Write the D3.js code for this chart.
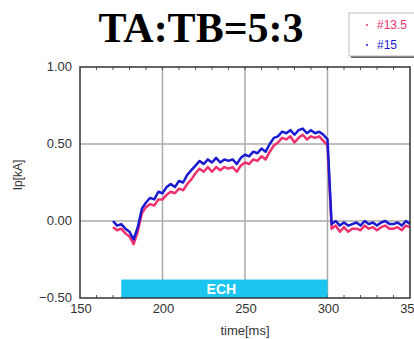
<!DOCTYPE html>
<html>
<head>
<meta charset="utf-8">
<script src="https://cdn.jsdelivr.net/npm/d3@7"></script>
<style>
body { margin: 0; background: #fff; }
svg { display: block; font-family: "Liberation Sans", Arial, sans-serif; }
</style>
</head>
<body>
<script>
var times = [170, 172.5, 175, 177.5, 180, 182.5, 185, 187.5, 190, 192.5, 195, 197.5,
    200, 202.5, 205, 207.5, 210, 212.5, 215, 217.5, 220, 222.5, 225, 227.5,
    230, 232.5, 235, 237.5, 240, 242.5, 245, 247.5, 250, 252.5, 255, 257.5,
    260, 262.5, 265, 267.5, 270, 272.5, 275, 277.5, 280, 282.5, 285, 287.5,
    290, 292.5, 295, 297.5, 300, 302.5, 305, 307.5, 310, 312.5, 315, 317.5,
    320, 322.5, 325, 327.5, 330, 332.5, 335, 337.5, 340, 342.5, 345, 347.5, 350];

// shot #13.5 (pink)
var ip135 = [-0.04, -0.06, -0.05, -0.08, -0.10, -0.15, -0.07, 0.05, 0.09, 0.11, 0.10, 0.14,
    0.14, 0.17, 0.19, 0.18, 0.21, 0.20, 0.24, 0.27, 0.31, 0.34, 0.32, 0.35,
    0.32, 0.35, 0.33, 0.35, 0.34, 0.35, 0.32, 0.36, 0.38, 0.37, 0.40, 0.39,
    0.42, 0.40, 0.45, 0.49, 0.51, 0.54, 0.53, 0.55, 0.51, 0.54, 0.56, 0.53,
    0.55, 0.54, 0.55, 0.52, 0.49, -0.05, -0.03, -0.07, -0.04, -0.07, -0.05, -0.05,
    -0.06, -0.03, -0.05, -0.04, -0.06, -0.04, -0.03, -0.05, -0.05, -0.04, -0.06, -0.03, -0.04];

// shot #15 (blue)
var ip15 = [0.00, -0.03, -0.02, -0.05, -0.07, -0.12, -0.04, 0.08, 0.12, 0.15, 0.14, 0.19,
    0.18, 0.22, 0.24, 0.22, 0.26, 0.25, 0.30, 0.33, 0.36, 0.39, 0.37, 0.40,
    0.38, 0.41, 0.38, 0.40, 0.39, 0.40, 0.37, 0.41, 0.43, 0.42, 0.45, 0.44,
    0.47, 0.45, 0.50, 0.54, 0.55, 0.58, 0.57, 0.59, 0.56, 0.59, 0.60, 0.57,
    0.59, 0.57, 0.58, 0.56, 0.53, -0.02, 0.00, -0.03, -0.01, -0.03, -0.02, -0.01,
    -0.03, 0.00, -0.02, -0.01, -0.03, -0.01, 0.00, -0.02, -0.02, -0.01, -0.03, 0.00, -0.02];

var xTicks = [150, 200, 250, 300, 350];
var yTicks = [-0.5, 0, 0.5, 1.0];
var echStart = 175, echEnd = 300;
var legendNames = ["#13.5", "#15"];

var width = 414, height = 339;
var padL = 80, padR = 410, padT = 67, padB = 298;

var svg = d3.select("body").append("svg")
    .attr("width", width)
    .attr("height", height);

var x = d3.scaleLinear().domain([150, 350]).range([padL, padR]);
var y = d3.scaleLinear().domain([-0.5, 1.0]).range([padB, padT]);

// grid
svg.append("g")
    .selectAll("line")
    .data(xTicks.slice(1, -1))
    .enter().append("line")
    .attr("x1", function (d) { return x(d); })
    .attr("x2", function (d) { return x(d); })
    .attr("y1", padT).attr("y2", padB)
    .attr("stroke", "#aaa").attr("stroke-width", 1.5);

svg.append("g")
    .selectAll("line")
    .data(yTicks.slice(1, -1))
    .enter().append("line")
    .attr("x1", padL).attr("x2", padR)
    .attr("y1", function (d) { return y(d); })
    .attr("y2", function (d) { return y(d); })
    .attr("stroke", "#aaa").attr("stroke-width", 1.5);

// small inner ticks on top and bottom edge
var minor = d3.range(160, 350, 10);
svg.append("g")
    .selectAll("line")
    .data(minor)
    .enter().append("line")
    .attr("x1", function (d) { return x(d); })
    .attr("x2", function (d) { return x(d); })
    .attr("y1", padT).attr("y2", padT + 3)
    .attr("stroke", "#555").attr("stroke-width", 1);
svg.append("g")
    .selectAll("line")
    .data(minor)
    .enter().append("line")
    .attr("x1", function (d) { return x(d); })
    .attr("x2", function (d) { return x(d); })
    .attr("y1", padB).attr("y2", padB - 3)
    .attr("stroke", "#555").attr("stroke-width", 1);

// ECH bar
svg.append("rect")
    .attr("x", x(echStart))
    .attr("y", y(-0.38))
    .attr("width", x(echEnd) - x(echStart))
    .attr("height", y(-0.5) - y(-0.38))
    .attr("fill", "#1cc4f0");
svg.append("text")
    .attr("x", (x(echStart) + x(echEnd)) / 2 - 3)
    .attr("y", y(-0.44) + 5)
    .attr("text-anchor", "middle")
    .attr("fill", "#fff")
    .attr("font-weight", "bold")
    .attr("font-size", 14)
    .text("ECH");

// curves
var line = d3.line()
    .x(function (d) { return x(d[0]); })
    .y(function (d) { return y(d[1]); });

svg.append("path")
    .datum(d3.zip(times, ip135))
    .attr("d", line)
    .attr("fill", "none")
    .attr("stroke", "#f0306e")
    .attr("stroke-width", 2.5)
    .attr("stroke-linejoin", "round");

svg.append("path")
    .datum(d3.zip(times, ip15))
    .attr("d", line)
    .attr("fill", "none")
    .attr("stroke", "#1a1ad0")
    .attr("stroke-width", 2.5)
    .attr("stroke-linejoin", "round");

// frame
svg.append("rect")
    .attr("x", padL).attr("y", padT)
    .attr("width", padR - padL).attr("height", padB - padT)
    .attr("fill", "none")
    .attr("stroke", "#333").attr("stroke-width", 1.5);

// tick labels
svg.append("g")
    .selectAll("text")
    .data(yTicks)
    .enter().append("text")
    .attr("x", padL - 8)
    .attr("y", function (d) { return y(d) + 4; })
    .attr("text-anchor", "end")
    .attr("font-size", 13)
    .attr("fill", "#333")
    .text(function (d) { return d3.format(".2f")(d); });

svg.append("g")
    .selectAll("text")
    .data(xTicks)
    .enter().append("text")
    .attr("x", function (d) { return x(d) + 1; })
    .attr("y", padB + 15)
    .attr("text-anchor", "middle")
    .attr("font-size", 13)
    .attr("fill", "#333")
    .text(function (d) { return d; });

svg.append("text")
    .attr("x", 245).attr("y", 335)
    .attr("text-anchor", "middle")
    .attr("font-size", 13)
    .attr("fill", "#333")
    .text("time[ms]");

svg.append("text")
    .attr("transform", "translate(22,175) rotate(-90)")
    .attr("text-anchor", "middle")
    .attr("font-size", 12)
    .attr("fill", "#333")
    .text("Ip[kA]");

// title
svg.append("text")
    .attr("x", 201).attr("y", 42)
    .attr("text-anchor", "middle")
    .attr("font-family", "'Liberation Serif', 'Times New Roman', serif")
    .attr("font-weight", "bold")
    .attr("font-size", 42)
    .attr("fill", "#000")
    .text("TA:TB=5:3");

// legend
var lg = svg.append("g");
lg.append("rect")
    .attr("x", 351).attr("y", 15)
    .attr("width", 70).attr("height", 43)
    .attr("fill", "#666");
lg.append("rect")
    .attr("x", 349).attr("y", 13)
    .attr("width", 70).attr("height", 43)
    .attr("fill", "#fff")
    .attr("stroke", "#bbb");
var legendColors = ["#f0306e", "#1a1ad0"];
lg.selectAll("circle")
    .data(legendNames)
    .enter().append("circle")
    .attr("cx", 367)
    .attr("cy", function (d, i) { return 25 + i * 20; })
    .attr("r", 1)
    .attr("fill", function (d, i) { return legendColors[i]; });
lg.selectAll("text")
    .data(legendNames)
    .enter().append("text")
    .attr("x", 377)
    .attr("y", function (d, i) { return 29 + i * 20; })
    .attr("font-size", 12)
    .attr("fill", function (d, i) { return legendColors[i]; })
    .text(function (d) { return d; });
</script>
</body>
</html>
